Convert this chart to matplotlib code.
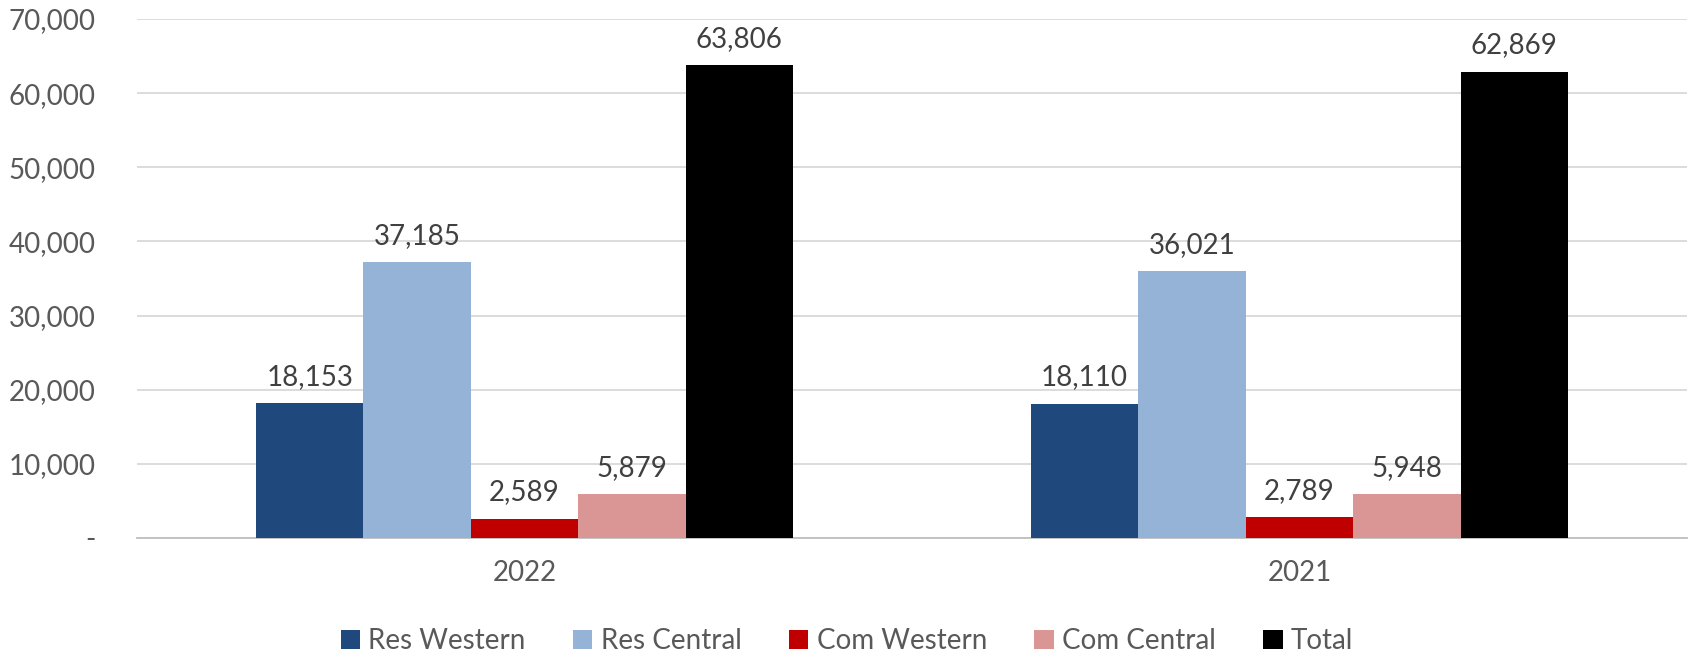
import matplotlib
matplotlib.use("Agg")
import matplotlib.pyplot as plt
import numpy as np
from matplotlib.patches import Patch

categories = ["2022", "2021"]
series = ["Res Western", "Res Central", "Com Western", "Com Central", "Total"]
res_western = [18153, 18110]
res_central = [37185, 36021]
com_western = [2589, 2789]
com_central = [5879, 5948]
total = [63806, 62869]
colors = ["#1F497D", "#95B3D7", "#C00000", "#D99694", "#000000"]
yticks = [0, 10000, 20000, 30000, 40000, 50000, 60000, 70000]

values = [res_western, res_central, com_western, com_central, total]

plt.rcParams['font.family'] = ['Lato', 'DejaVu Sans']

W, H = 1694, 658
fig = plt.figure(figsize=(W / 100, H / 100), dpi=100)
ax = fig.add_axes([137 / W, 1 - 538 / H, (1687 - 137) / W, (538 - 19) / H])

x = np.arange(len(categories))
bw = 0.1386
for i, (name, vals, c) in enumerate(zip(series, values, colors)):
    pos = x + (i - 2) * bw
    ax.bar(pos, vals, width=bw, color=c, label=name, zorder=3)
    for p, v in zip(pos, vals):
        ax.text(p, v + 1800, f"{v:,}", ha="center", va="bottom",
                fontsize=20, color="#404040")

ax.set_xlim(-0.5, 1.5)
ax.set_ylim(0, 70000)
ax.set_yticks(yticks)
ax.set_yticklabels(["-" if t == 0 else f"{t:,}" for t in yticks],
                   fontsize=20, color="#595959")
ax.set_xticks(x)
ax.set_xticklabels(categories, fontsize=20, color="#595959")
ax.tick_params(axis="both", length=0)
ax.tick_params(axis="y", pad=30)
ax.tick_params(axis="x", pad=16)
ax.grid(axis="y", color="#D9D9D9", linewidth=1.3, zorder=0)
for s in ["top", "right", "left"]:
    ax.spines[s].set_visible(False)
ax.spines["bottom"].set_color("#BFBFBF")
ax.spines["bottom"].set_linewidth(1.3)

handles = [Patch(facecolor=c, label=n) for n, c in zip(series, colors)]
leg = fig.legend(handles=handles, loc="center", bbox_to_anchor=(0.5, 1 - 641 / H),
                 ncol=5, frameon=False, fontsize=20, handlelength=0.7,
                 handleheight=0.7, handletextpad=0.3, columnspacing=1.7)
for t in leg.get_texts():
    t.set_color("#595959")

fig.savefig("out.png", dpi=100)
